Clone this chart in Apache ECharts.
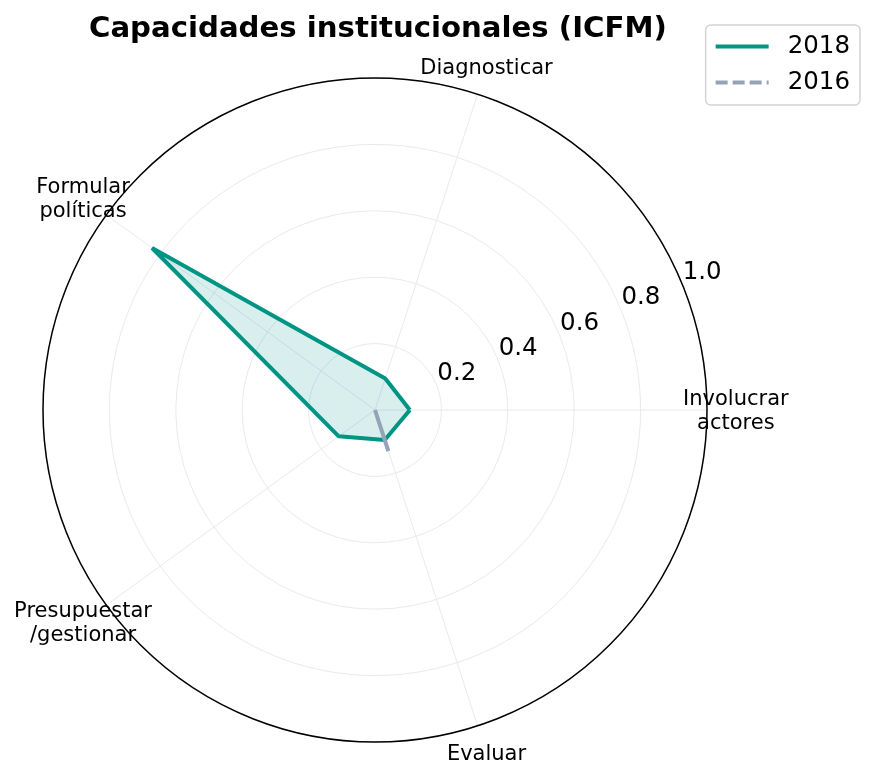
<!DOCTYPE html>
<html>
<head>
<meta charset="utf-8">
<script src="https://cdn.jsdelivr.net/npm/echarts@6/dist/echarts.min.js"></script>
<style>
  html, body { margin: 0; padding: 0; background: #fff; }
  #chart { width: 876px; height: 779px; }
</style>
</head>
<body>
<div id="chart"></div>
<script>
// ejes del radar (en orden antihorario desde el este)
const capacidades = ['Involucrar\nactores', 'Diagnosticar', 'Formular\npolíticas', 'Presupuestar\n/gestionar', 'Evaluar'];
const valores2018 = [0.105, 0.10, 0.83, 0.135, 0.095];
const valores2016 = [0, 0, 0, 0, 0.13];
const radialTicks = [0.2, 0.4, 0.6, 0.8, 1.0];
const radialTickLabels = ['0.2', '0.4', '0.6', '0.8', '1.0'];

const FONT = 'DejaVu Sans';
const TEAL = '#009484';
const SLATE = '#94a3b8';
const GRID = '#e8eaee';
const NAME_R = 1.087;      // radio donde van los nombres de los ejes
const RLABEL_ANGLE = 22.5; // angulo de las etiquetas radiales

function paso() { return 360 / capacidades.length; }

// puntos [radio, angulo] cerrando el poligono
function toPolar(vals) {
  let pts = vals.map((v, i) => [v, i * paso()]);
  pts.push([vals[0], 360]);
  return pts;
}

function drawRadar() {
  let myChart = echarts.init(document.getElementById('chart'));
  let option = {
    animation: false,
    backgroundColor: '#fff',
    title: {
      text: 'Capacidades institucionales (ICFM)',
      left: 84,
      top: 10,
      textStyle: { fontFamily: FONT, fontSize: 29.2, fontWeight: 'bold', color: '#000' }
    },
    legend: {
      data: ['2018', '2016'],
      orient: 'vertical',
      right: 16,
      top: 25,
      padding: [9, 10, 10, 8],
      itemWidth: 53,
      itemHeight: 14,
      itemGap: 11,
      borderColor: '#d4d4d4',
      borderWidth: 1.5,
      borderRadius: 5,
      itemStyle: { opacity: 0 },
      lineStyle: { width: 4 },
      textStyle: { fontFamily: FONT, fontSize: 24.5, color: '#000', padding: [0, 0, 0, 14] }
    },
    polar: {
      center: [375, 410],
      radius: 332
    },
    angleAxis: {
      type: 'value',
      min: 0,
      max: 360,
      interval: 72,
      startAngle: 0,
      clockwise: false,
      axisLine: { show: true, lineStyle: { color: '#000', width: 1.5 } },
      axisTick: { show: false },
      axisLabel: { show: false },
      splitLine: { show: true, lineStyle: { color: GRID, width: 1 } }
    },
    radiusAxis: {
      type: 'value',
      min: 0,
      max: 1,
      interval: 0.2,
      axisLine: { show: false },
      axisTick: { show: false },
      axisLabel: { show: false },
      splitLine: { show: true, lineStyle: { color: GRID, width: 1 } }
    },
    series: [
      {
        name: '2018',
        type: 'line',
        coordinateSystem: 'polar',
        symbol: 'none',
        lineStyle: { color: TEAL, width: 4 },
        itemStyle: { color: TEAL },
        areaStyle: { color: TEAL, opacity: 0.15 },
        data: toPolar(valores2018),
        z: 3
      },
      {
        name: '2016',
        type: 'line',
        coordinateSystem: 'polar',
        symbol: 'none',
        lineStyle: { color: SLATE, width: 4, type: [12, 5] },
        itemStyle: { color: SLATE },
        areaStyle: { color: SLATE, opacity: 0.15 },
        data: toPolar(valores2016),
        z: 4
      },
      {
        // etiquetas radiales
        type: 'scatter',
        coordinateSystem: 'polar',
        clip: false,
        silent: true,
        symbolSize: 0,
        itemStyle: { opacity: 1 },
        data: radialTicks.map((v, i) => ({ name: radialTickLabels[i], value: [v, RLABEL_ANGLE] })),
        label: {
          show: true,
          position: 'inside',
          offset: [20.5, -10.5],
          formatter: p => p.name,
          fontFamily: FONT,
          fontSize: 24.5,
          color: '#000'
        },
        z: 5
      },
      {
        // nombres de las capacidades
        type: 'scatter',
        coordinateSystem: 'polar',
        clip: false,
        silent: true,
        symbolSize: 0,
        itemStyle: { opacity: 1 },
        data: capacidades.map((c, i) => ({ name: c, value: [NAME_R, i * paso()] })),
        label: {
          show: true,
          position: 'inside',
          offset: [0, 1.5],
          formatter: p => p.name,
          fontFamily: FONT,
          fontSize: 21,
          lineHeight: 24,
          align: 'center',
          color: '#000'
        },
        z: 5
      }
    ]
  };
  option && myChart.setOption(option);
  return myChart;
}

drawRadar();
</script>
</body>
</html>
